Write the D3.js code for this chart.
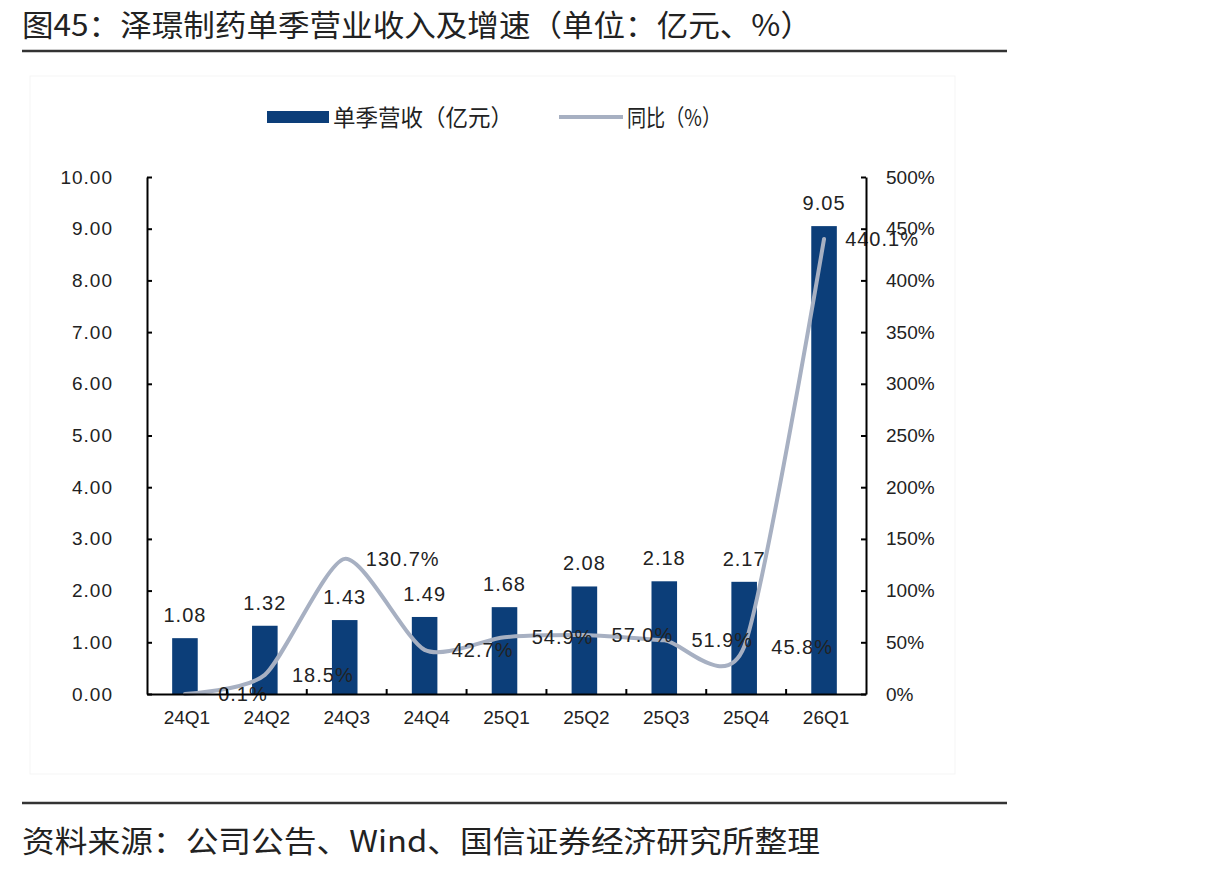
<!DOCTYPE html>
<html>
<head>
<meta charset="utf-8">
<script src="https://cdn.jsdelivr.net/npm/d3@7"></script>
<style>
  body { margin: 0; background: #fff; }
  svg text { fill: #222; }
</style>
</head>
<body>
<svg id="chart" width="1222" height="871"></svg>
<script>
const categories = ['24Q1', '24Q2', '24Q3', '24Q4', '25Q1', '25Q2', '25Q3', '25Q4', '26Q1'];
const revenue = [1.08, 1.32, 1.43, 1.49, 1.68, 2.08, 2.18, 2.17, 9.05];
const yoy = [0.1, 18.5, 130.7, 42.7, 54.9, 57.0, 51.9, 45.8, 440.1];
const leftTicks = [0, 1, 2, 3, 4, 5, 6, 7, 8, 9, 10];
const rightTicks = [0, 50, 100, 150, 200, 250, 300, 350, 400, 450, 500];

const titleText = '图45：泽璟制药单季营业收入及增速（单位：亿元、%）';
const sourceText = '资料来源：公司公告、Wind、国信证券经济研究所整理';
const legendBar = '单季营收（亿元）';
const legendLine = '同比（%）';

const size = {
    width: 1222,
    height: 871,
    margin: { top: 177, right: 356, bottom: 177, left: 147 }
};
const barColor = '#0c3e79';
const lineColor = '#a7b0c2';
const cjk = '"Noto Sans CJK SC", sans-serif';
const num = '"Liberation Sans", Arial, sans-serif';

const svg = d3.select('#chart');
const plotBottom = size.height - size.margin.bottom; // 694
const plotRight = size.width - size.margin.right;    // 866

// title and footer
svg.append('text')
    .attr('x', 22).attr('y', 36)
    .attr('font-family', cjk).attr('font-size', 30)
    .attr('textLength', 790).attr('lengthAdjust', 'spacingAndGlyphs')
    .text(titleText);
svg.append('line')
    .attr('x1', 22).attr('x2', 1007).attr('y1', 51).attr('y2', 51)
    .attr('stroke', '#333').attr('stroke-width', 2.5);
svg.append('line')
    .attr('x1', 22).attr('x2', 1007).attr('y1', 803).attr('y2', 803)
    .attr('stroke', '#333').attr('stroke-width', 2.5);
svg.append('text')
    .attr('x', 22).attr('y', 852)
    .attr('font-family', cjk).attr('font-size', 30)
    .attr('textLength', 798).attr('lengthAdjust', 'spacingAndGlyphs')
    .text(sourceText);

// faint chart frame
svg.append('rect')
    .attr('x', 30).attr('y', 76).attr('width', 925).attr('height', 698)
    .attr('fill', 'none').attr('stroke', '#f5f5f5').attr('stroke-width', 1);

const x = d3.scaleBand()
    .domain(categories)
    .range([size.margin.left, plotRight])
    .padding(0);

const yLeft = d3.scaleLinear()
    .domain([0, 10])
    .range([plotBottom, size.margin.top]);

const yRight = d3.scaleLinear()
    .domain([0, 500])
    .range([plotBottom, size.margin.top]);

const barWidth = x.bandwidth() * 0.32;
const cx = i => x(categories[i]) + x.bandwidth() / 2 - 2;

// bars
svg.selectAll('rect.bar')
    .data(revenue)
    .join('rect')
    .attr('class', 'bar')
    .attr('x', (d, i) => cx(i) - barWidth / 2)
    .attr('y', d => yLeft(d))
    .attr('width', barWidth)
    .attr('height', d => plotBottom - yLeft(d))
    .attr('fill', barColor);

// bar labels
svg.selectAll('text.barlabel')
    .data(revenue)
    .join('text')
    .attr('class', 'barlabel')
    .attr('x', (d, i) => cx(i))
    .attr('y', d => yLeft(d) - 16)
    .attr('text-anchor', 'middle')
    .attr('font-family', num).attr('font-size', 20)
    .attr('letter-spacing', 1)
    .text(d => d.toFixed(2));

// yoy line
const line = d3.line()
    .x((d, i) => cx(i))
    .y(d => yRight(d))
    .curve(d3.curveCardinal.tension(0.3));

svg.append('path')
    .datum(yoy)
    .attr('d', line)
    .attr('fill', 'none')
    .attr('stroke', lineColor)
    .attr('stroke-width', 4)
    .attr('stroke-linecap', 'round');

// yoy labels (offset to the right, as in the source)
svg.selectAll('text.yoylabel')
    .data(yoy)
    .join('text')
    .attr('class', 'yoylabel')
    .attr('x', (d, i) => cx(i) + 58)
    .attr('y', d => yRight(d) + 7)
    .attr('text-anchor', 'middle')
    .attr('font-family', num).attr('font-size', 20)
    .attr('letter-spacing', 1)
    .text(d => d.toFixed(1) + '%');

// axes
const leftAxis = svg.append('g')
    .attr('transform', `translate(${size.margin.left},0)`)
    .call(d3.axisLeft(yLeft).tickValues(leftTicks).tickSizeInner(-5).tickSizeOuter(0).tickPadding(34)
        .tickFormat(d => d.toFixed(2)));

const rightAxis = svg.append('g')
    .attr('transform', `translate(${plotRight},0)`)
    .call(d3.axisRight(yRight).tickValues(rightTicks).tickSizeInner(-5).tickSizeOuter(0).tickPadding(20)
        .tickFormat(d => d + '%'));

const bottomAxis = svg.append('g')
    .attr('transform', `translate(0,${plotBottom})`)
    .call(d3.axisBottom(x).tickSize(0).tickPadding(17));

// category boundary ticks pointing up
bottomAxis.selectAll('line.boundary')
    .data(categories.slice(1))
    .join('line')
    .attr('class', 'boundary')
    .attr('x1', d => x(d)).attr('x2', d => x(d))
    .attr('y1', 0).attr('y2', -5)
    .attr('stroke', '#000').attr('stroke-width', 2);

[leftAxis, rightAxis, bottomAxis].forEach(g => {
    g.select('.domain').attr('stroke', '#000').attr('stroke-width', 2);
    g.selectAll('.tick line').attr('stroke', '#000').attr('stroke-width', 2);
    g.selectAll('.tick text')
        .attr('font-family', num)
        .attr('font-size', 19)
        .attr('fill', '#222');
});
leftAxis.selectAll('.tick text').attr('letter-spacing', 1);

// legend
const legend = svg.append('g');
legend.append('rect')
    .attr('x', 267).attr('y', 111).attr('width', 62).attr('height', 12)
    .attr('fill', barColor);
legend.append('text')
    .attr('x', 333).attr('y', 126)
    .attr('font-family', cjk).attr('font-size', 23)
    .attr('textLength', 180).attr('lengthAdjust', 'spacingAndGlyphs')
    .text(legendBar);
legend.append('line')
    .attr('x1', 559).attr('x2', 623).attr('y1', 117).attr('y2', 117)
    .attr('stroke', lineColor).attr('stroke-width', 4);
legend.append('text')
    .attr('x', 627).attr('y', 126)
    .attr('font-family', cjk).attr('font-size', 23)
    .attr('textLength', 94).attr('lengthAdjust', 'spacingAndGlyphs')
    .text(legendLine);
</script>
</body>
</html>
